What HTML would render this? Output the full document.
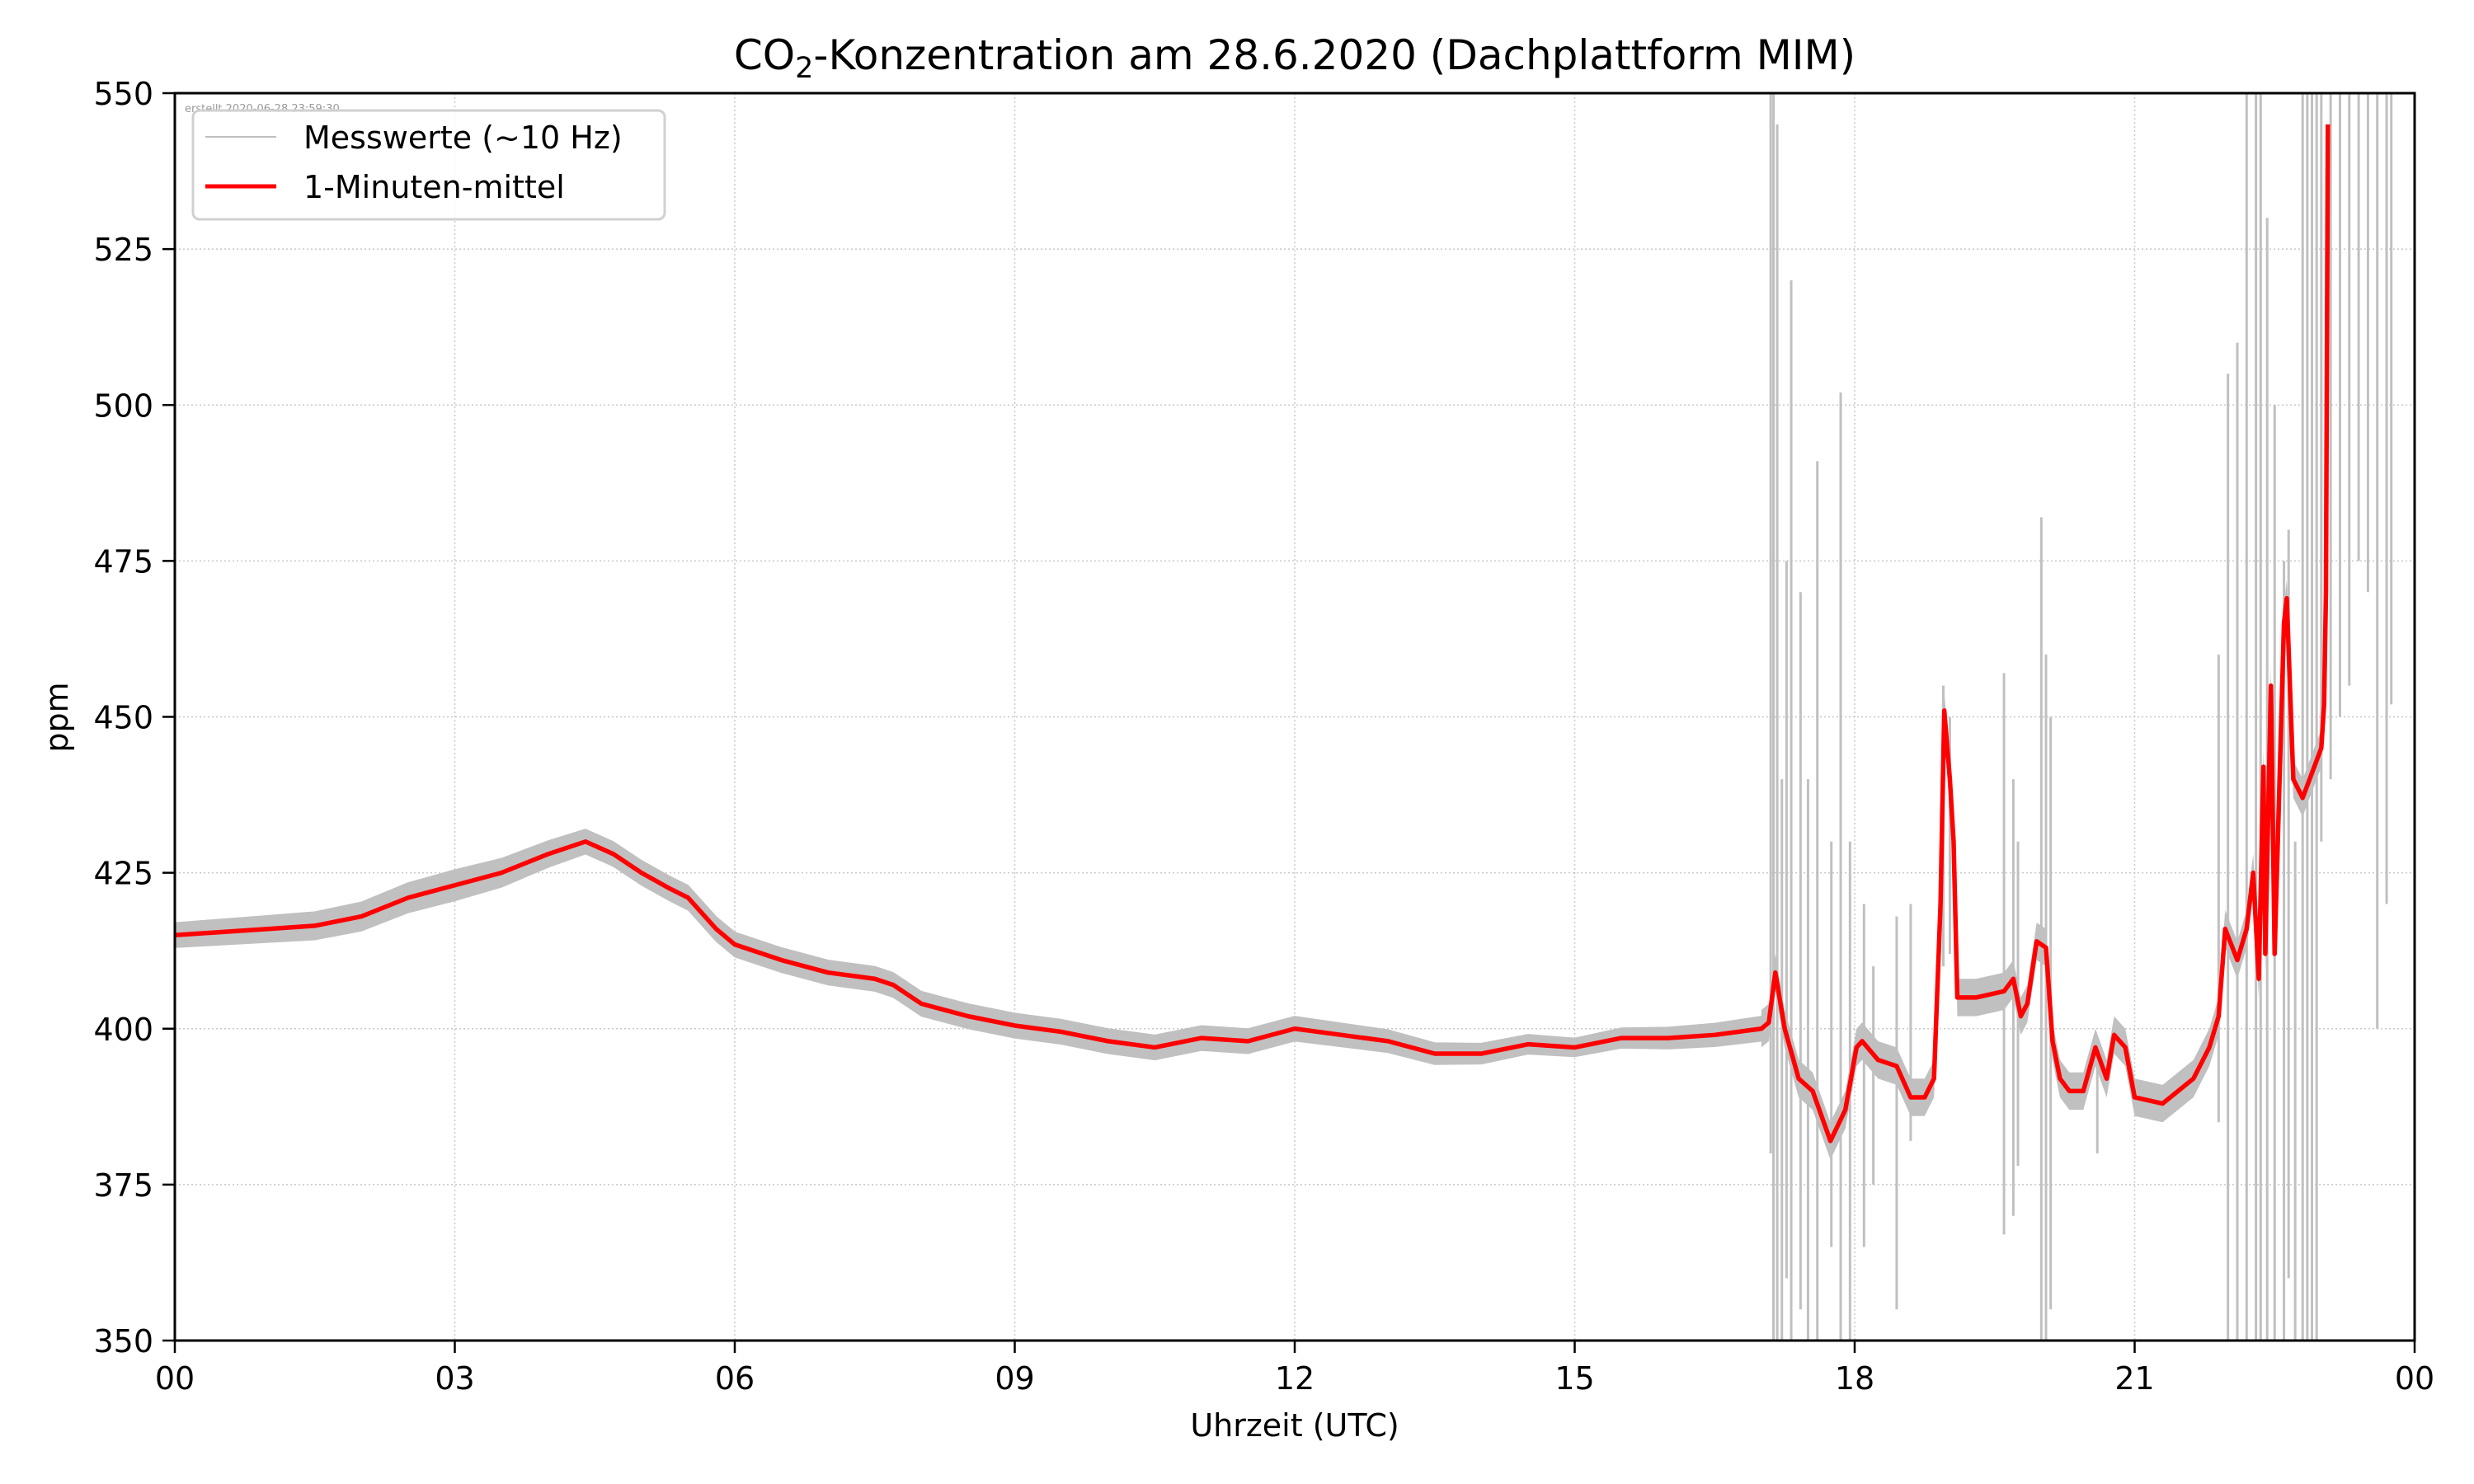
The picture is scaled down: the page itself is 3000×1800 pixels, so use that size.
<!DOCTYPE html>
<html><head><meta charset="utf-8"><style>
html,body{margin:0;padding:0;background:#fff;}
svg{display:block;font-family:"DejaVu Sans","Liberation Sans",sans-serif;}
</style></head><body>
<svg id="chart" width="3000" height="1800" viewBox="0 0 3000 1800" xmlns="http://www.w3.org/2000/svg">
<rect width="3000" height="1800" fill="#fff"/>
<g id="grid"></g>
<g id="noise"></g>
<g id="mean"></g>
<g id="axes"></g>
<text x="224" y="136" font-size="13" fill="#999">erstellt 2020-06-28 23:59:30</text>
<text x="1570" y="84" font-size="50" text-anchor="middle">CO<tspan font-size="35" dy="10">2</tspan><tspan dy="-10">-Konzentration am 28.6.2020 (Dachplattform MIM)</tspan></text>
<text transform="translate(82,870) rotate(-90)" font-size="38" text-anchor="middle">ppm</text>
<text x="1570" y="1742" font-size="38" text-anchor="middle">Uhrzeit (UTC)</text>
<g>
<rect x="234" y="134" width="572" height="132" rx="8" fill="#fff" fill-opacity="0.85" stroke="#d0d0d0" stroke-width="3"/>
<line x1="249" y1="166" x2="335" y2="166" stroke="#bfbfbf" stroke-width="2"/>
<text x="368" y="180" font-size="38">Messwerte (~10 Hz)</text>
<line x1="249" y1="226" x2="335" y2="226" stroke="#ff0000" stroke-width="5"/>
<text x="368" y="240" font-size="38">1-Minuten-mittel</text>
</g>
</svg>
<script>
const xTicks=[0,3,6,9,12,15,18,21,24];
const xTickLabels=["00","03","06","09","12","15","18","21","00"];
const yTicks=[350,375,400,425,450,475,500,525,550];
const meanHours=[0,0.5,1,1.5,2,2.5,3,3.5,4,4.4,4.7,5,5.3,5.5,5.8,6,6.5,7,7.5,7.7,8,8.5,9,9.5,10,10.5,11,11.5,12,12.5,13,13.5,14,14.5,15,15.5,16,16.5,17,17.08,17.15,17.25,17.4,17.55,17.74,17.9,18.02,18.08,18.25,18.45,18.6,18.75,18.85,18.92,18.96,19.02,19.06,19.1,19.3,19.6,19.7,19.78,19.85,19.95,20.05,20.12,20.2,20.3,20.45,20.58,20.7,20.78,20.9,21.0,21.3,21.63,21.8,21.9,21.97,22.1,22.2,22.27,22.33,22.38,22.4,22.46,22.5,22.6,22.63,22.7,22.8,22.9,23.0,23.03,23.05,23.07];
const meanPpm=[415,415.5,416,416.5,418,421,423,425,428,430,428,425,422.5,421,416,413.5,411,409,408,407,404,402,400.5,399.5,398,397,398.5,398,400,399,398,396,396,397.5,397,398.5,398.5,399,400,401,409,400,392,390,382,387,397,398,395,394,389,389,392,420,451,440,430,405,405,406,408,402,404,414,413,398,392,390,390,397,392,399,397,389,388,392,397,402,416,411,416,425,408,442,412,455,412,465,469,440,437,441,445,452,470,545];
const noiseHours=[0,3,4.4,6,9,12,15,17];
const noiseAmp=[2,2.5,2,2,2,2,1.5,2];
const spikeHours=[17.1,17.13,17.17,17.22,17.27,17.32,17.42,17.5,17.6,17.75,17.85,17.95,18.1,18.2,18.45,18.6,18.95,19.02,19.6,19.7,19.75,20.0,20.05,20.1,20.6,21.9,22.0,22.1,22.2,22.3,22.35,22.42,22.5,22.6,22.65,22.72,22.8,22.85,22.9,22.95,23.0,23.1,23.2,23.3,23.4,23.5,23.6,23.7,23.75];
const spikeLow=[380,350,350,350,360,350,355,350,350,365,350,350,365,375,355,382,410,412,367,370,378,350,350,355,380,385,350,350,350,350,350,350,350,350,360,350,350,350,350,350,430,440,450,455,475,470,400,420,452];
const spikeHigh=[550,550,545,440,475,520,470,440,491,430,502,430,420,410,418,420,455,450,457,440,430,482,460,450,398,460,505,510,550,550,550,530,500,475,480,430,550,550,550,550,550,550,550,550,550,550,550,550,550];

const L=212,R=2928,T=113,B=1626;
const xs=h=>L+(h/24)*(R-L);
const ys=v=>B-(v-350)/200*(B-T);
const NS='http://www.w3.org/2000/svg';
function mk(tag,parent){const e=document.createElementNS(NS,tag);parent.appendChild(e);return e;}
const grid=document.getElementById('grid'),axes=document.getElementById('axes'),noise=document.getElementById('noise'),mean=document.getElementById('mean');

xTicks.forEach((t,i)=>{
  const x=xs(t);
  if(i>0&&i<xTicks.length-1){const g=mk('line',grid);
    
    
    g.setAttribute('x1',x);g.setAttribute('x2',x);g.setAttribute('y1',T);g.setAttribute('y2',B);
    g.setAttribute('stroke','#c8c8c8');g.setAttribute('stroke-width','1.5');g.setAttribute('stroke-dasharray','2,3');}
  const tk=mk('line',axes);
  
  
  tk.setAttribute('x1',x);tk.setAttribute('x2',x);tk.setAttribute('y1',B);tk.setAttribute('y2',B+15);
  tk.setAttribute('stroke','#000');tk.setAttribute('stroke-width','2.5');
  const lb=mk('text',axes);
  
  
  lb.setAttribute('x',x);lb.setAttribute('y',1685);lb.setAttribute('font-size','38');lb.setAttribute('text-anchor','middle');
  lb.textContent=xTickLabels[i];
});
yTicks.forEach((t,i)=>{
  const y=ys(t);
  if(i>0&&i<yTicks.length-1){const g=mk('line',grid);
    
    
    g.setAttribute('x1',L);g.setAttribute('x2',R);g.setAttribute('y1',y);g.setAttribute('y2',y);
    g.setAttribute('stroke','#c8c8c8');g.setAttribute('stroke-width','1.5');g.setAttribute('stroke-dasharray','2,3');}
  const tk=mk('line',axes);
  
  
  tk.setAttribute('x1',L-15);tk.setAttribute('x2',L);tk.setAttribute('y1',y);tk.setAttribute('y2',y);
  tk.setAttribute('stroke','#000');tk.setAttribute('stroke-width','2.5');
  const lb=mk('text',axes);
  
  
  lb.setAttribute('x',L-26);lb.setAttribute('y',y+14);lb.setAttribute('font-size','38');lb.setAttribute('text-anchor','end');
  lb.textContent=t;
});
const frame=mk('rect',axes);


frame.setAttribute('x',L);frame.setAttribute('y',T);frame.setAttribute('width',R-L);frame.setAttribute('height',B-T);
frame.setAttribute('fill','none');frame.setAttribute('stroke','#000');frame.setAttribute('stroke-width','3');

const defs=mk('defs',document.getElementById('chart'));
const cp=mk('clipPath',defs);cp.setAttribute('id','clip');
const cr=mk('rect',cp);cr.setAttribute('x',L);cr.setAttribute('y',T);cr.setAttribute('width',R-L);cr.setAttribute('height',B-T);
noise.setAttribute('clip-path','url(#clip)');mean.setAttribute('clip-path','url(#clip)');

function interp(hs,vs,h){if(h<=hs[0])return vs[0];for(let i=1;i<hs.length;i++){if(h<=hs[i]){const f=(h-hs[i-1])/(hs[i]-hs[i-1]);return vs[i-1]+f*(vs[i]-vs[i-1]);}}return vs[vs.length-1];}
const calm=meanHours.filter(h=>h<=17);
let up=[],dn=[];
calm.forEach(h=>{const v=interp(meanHours,meanPpm,h),a=interp(noiseHours,noiseAmp,h);up.push(xs(h)+','+ys(v+a));dn.unshift(xs(h)+','+ys(v-a));});
const band=mk('polygon',noise);


band.setAttribute('points',up.concat(dn).join(' '));band.setAttribute('fill','#c0c0c0');band.setAttribute('stroke','#c0c0c0');band.setAttribute('stroke-width','1');
const late=meanHours.filter(h=>h>=17);
let lu=[],ld=[];
late.forEach(h=>{const v=interp(meanHours,meanPpm,h);lu.push(xs(h)+','+ys(v+3));ld.unshift(xs(h)+','+ys(v-3));});
const band2=mk('polygon',noise);


band2.setAttribute('points',lu.concat(ld).join(' '));band2.setAttribute('fill','#c0c0c0');
spikeHours.forEach((h,i)=>{
  const s=mk('line',noise);
  
  
  s.setAttribute('x1',xs(h));s.setAttribute('x2',xs(h));s.setAttribute('y1',ys(spikeLow[i]));s.setAttribute('y2',ys(spikeHigh[i]));
  s.setAttribute('stroke','#c0c0c0');s.setAttribute('stroke-width','3');
});
const pl=mk('polyline',mean);


pl.setAttribute('points',meanHours.map((h,i)=>xs(h)+','+ys(meanPpm[i])).join(' '));
pl.setAttribute('fill','none');pl.setAttribute('stroke','#ff0000');pl.setAttribute('stroke-width','5.5');pl.setAttribute('stroke-linejoin','round');
</script>
</body></html>
